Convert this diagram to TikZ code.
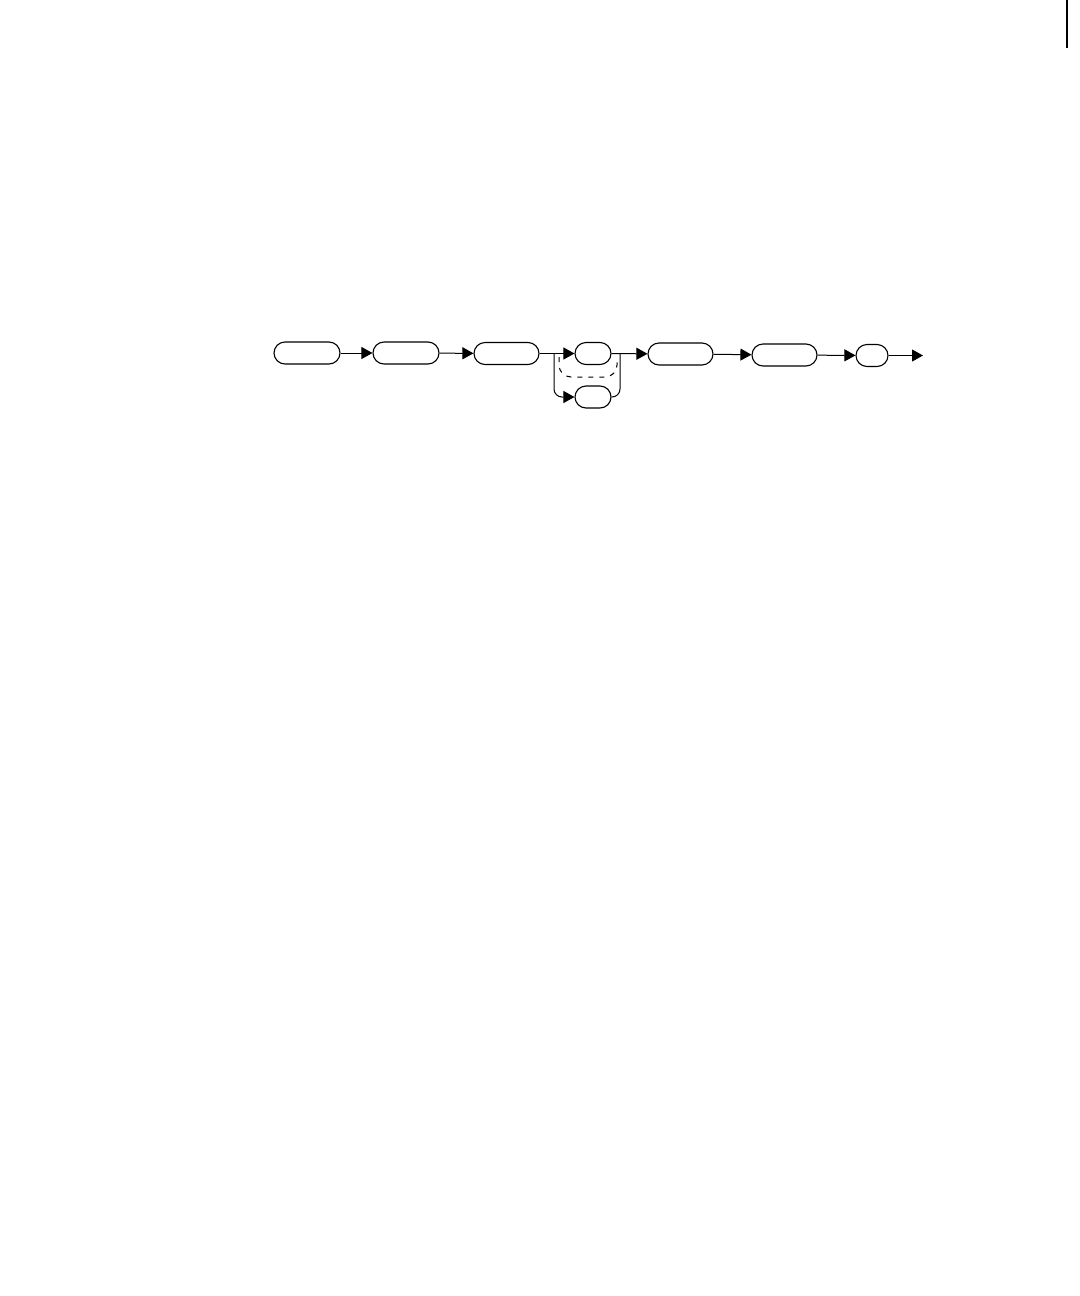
\documentclass[tikz,border=0pt]{standalone}
\usepackage{amsmath}
\usetikzlibrary{arrows.meta}

\begin{document}
\begin{tikzpicture}[x=0.5pt,y=0.5pt,yscale=-1,xscale=1,
  pill/.style={draw,line width=0.55pt,rectangle,rounded corners=5.5pt,minimum height=11pt,inner sep=0pt},
  flow/.style={line width=0.5pt,-{Triangle[length=5.5pt,width=6pt]}},
  link/.style={line width=0.5pt}]
\useasboundingbox (0,0) rectangle (1080,1296);

%Page edge mark
\draw [line width=1pt] (1067,0) -- (1067,48) ;

%Rounded Rects
\node [pill,minimum width=33pt] (start) at (307,353) {};
\node [pill,minimum width=33pt] (head) at (406,353) {};
\node [pill,minimum width=32.5pt] (body) at (506.5,353.5) {};
\node [pill,minimum width=18pt] (optA) at (593,353.5) {};
\node [pill,minimum width=18pt] (optB) at (593,397) {};
\node [pill,minimum width=32.5pt] (tail) at (680.5,354) {};
\node [pill,minimum width=32.5pt] (check) at (784.5,355) {};
\node [pill,minimum width=16pt] (stop) at (872,355.5) {};

%Branch points
\coordinate (split) at (554,353.5) ;
\coordinate (merge) at (620,353.5) ;
\coordinate (out) at (923,355.5) ;

%Straight Lines
\draw [flow] (start) -- (head) ;
\draw [flow] (head) -- (body) ;
\draw [flow] (body) -- (optA) ;
\draw [flow,rounded corners=4pt] (split) |- (optB) ;
\draw [link,rounded corners=4pt] (optB) -| (merge) ;
\draw [flow] (optA) -- (tail) ;
\draw [flow] (tail) -- (check) ;
\draw [flow] (check) -- (stop) ;
\draw [flow] (stop) -- (out) ;

%Dashed loop
\draw [link,dash pattern=on 2.5pt off 3pt,rounded corners=6pt] (559,357) -- (559,377) -- (617,377) -- (617,357) ;

\end{tikzpicture}
\end{document}
